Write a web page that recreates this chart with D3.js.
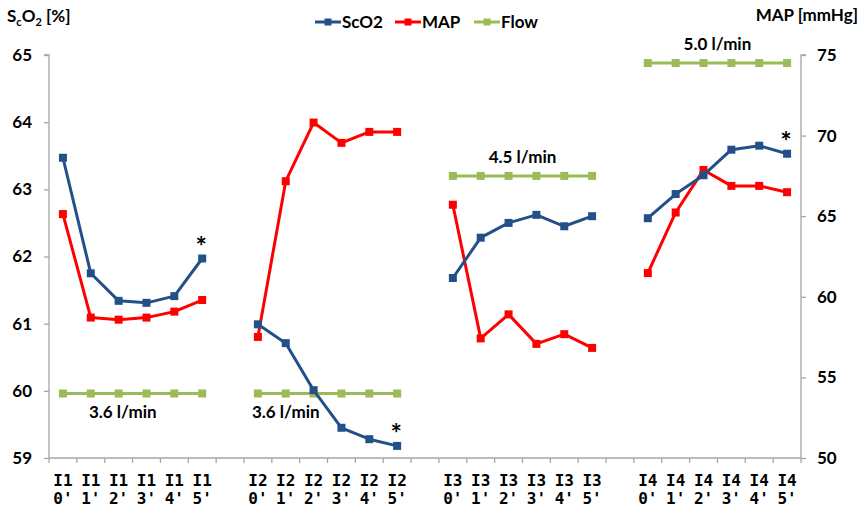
<!DOCTYPE html>
<html>
<head>
<meta charset="utf-8">
<script src="https://cdn.jsdelivr.net/npm/d3@7/dist/d3.min.js"></script>
<style>
  html, body { margin: 0; padding: 0; background: #fff; }
  svg text { font-family: Lato, "Open Sans", sans-serif; font-weight: 700; fill: #000; }
  .xlab { font-family: "DejaVu Sans Mono", "Liberation Mono", monospace; }
</style>
</head>
<body>
<svg id="chart" width="864" height="512"></svg>
<script>
// Intervention phases and sampling minutes (blank slots separate the phases)
const categories = [
  "I1 0'", "I1 1'", "I1 2'", "I1 3'", "I1 4'", "I1 5'", "",
  "I2 0'", "I2 1'", "I2 2'", "I2 3'", "I2 4'", "I2 5'", " ",
  "I3 0'", "I3 1'", "I3 2'", "I3 3'", "I3 4'", "I3 5'", "  ",
  "I4 0'", "I4 1'", "I4 2'", "I4 3'", "I4 4'", "I4 5'"
];

// Cerebral oxygen saturation [%]
const scO2 = [
  63.47, 61.75, 61.34, 61.31, 61.41, 61.97, null,
  60.99, 60.71, 60.01, 59.45, 59.28, 59.18, null,
  61.68, 62.28, 62.50, 62.62, 62.45, 62.60, null,
  62.57, 62.93, 63.21, 63.59, 63.65, 63.53
];

// Mean arterial pressure [mmHg]
const map = [
  65.13, 58.71, 58.58, 58.71, 59.08, 59.80, null,
  57.51, 67.17, 70.81, 69.55, 70.23, 70.23, null,
  65.71, 57.42, 58.91, 57.08, 57.68, 56.83, null,
  61.47, 65.23, 67.87, 66.88, 66.88, 66.49
];

// Pump flow [l/min]
const flow = [
  3.6, 3.6, 3.6, 3.6, 3.6, 3.6, null,
  3.6, 3.6, 3.6, 3.6, 3.6, 3.6, null,
  4.5, 4.5, 4.5, 4.5, 4.5, 4.5, null,
  5.0, 5.0, 5.0, 5.0, 5.0, 5.0
];
const flowLevels = [3.6, 4.5, 5.0];
const flowOnMapAxis = [54, 67.5, 74.5];

// Significant differences (category index of the starred point)
const starred = [5, 12, 26];

const leftTicks = [59, 60, 61, 62, 63, 64, 65];
const rightTicks = [50, 55, 60, 65, 70, 75];

const colors = { scO2: "#24508A", map: "#FF0000", flow: "#9BBB59" };
const axisColor = "#A6A6A6";

const svg = d3.select("#chart");
const plot = { left: 49, right: 801, top: 55, bottom: 458 };

const x = d3.scaleBand().domain(d3.range(categories.length))
  .range([plot.left, plot.right]).paddingInner(0).paddingOuter(0);
const cx = i => x(i) + x.bandwidth() / 2;

const yL = d3.scaleLinear().domain([59, 65]).range([plot.bottom, plot.top]);
const yR = d3.scaleLinear().domain([50, 75]).range([plot.bottom, plot.top]);
const flowScale = d3.scaleLinear().domain(flowLevels).range(flowOnMapAxis);

// Axes
const leftAxis = d3.axisLeft(yL).tickValues(leftTicks).tickSize(5).tickPadding(12).tickFormat(d3.format("d"));
const rightAxis = d3.axisRight(yR).tickValues(rightTicks).tickSize(5).tickPadding(11).tickFormat(d3.format("d"));

function styleAxis(g) {
  g.select(".domain").attr("stroke", axisColor).attr("stroke-width", 1.3);
  g.selectAll(".tick line").attr("stroke", axisColor).attr("stroke-width", 1.3);
  g.selectAll(".tick text").attr("font-size", 17).attr("font-family", "Lato, sans-serif")
    .attr("font-weight", 700).attr("fill", "#000");
}

svg.append("g").attr("transform", `translate(${plot.left},0)`).call(leftAxis)
  .call(g => g.select(".domain").attr("d", `M-5,${plot.top}H0V${plot.bottom}`)).call(styleAxis);
svg.append("g").attr("transform", `translate(${plot.right},0)`).call(rightAxis)
  .call(g => g.select(".domain").attr("d", `M5,${plot.top}H0V${plot.bottom}`)).call(styleAxis);

// Category axis: ticks at band boundaries, two-line labels
const xg = svg.append("g");
xg.append("line").attr("x1", plot.left).attr("x2", plot.right)
  .attr("y1", plot.bottom).attr("y2", plot.bottom)
  .attr("stroke", axisColor).attr("stroke-width", 1.3);
xg.selectAll("line.tk").data(d3.range(categories.length + 1)).join("line").attr("class", "tk")
  .attr("x1", i => plot.left + i * x.bandwidth()).attr("x2", i => plot.left + i * x.bandwidth())
  .attr("y1", plot.bottom).attr("y2", plot.bottom + 5)
  .attr("stroke", axisColor).attr("stroke-width", 1.3);
const xl = xg.selectAll("text.xlab").data(categories.map((c, i) => ({ c: c.trim(), i })).filter(d => d.c))
  .join("text").attr("class", "xlab").attr("text-anchor", "middle").attr("font-size", 16);
xl.append("tspan").attr("x", d => cx(d.i)).attr("y", 486).text(d => d.c.split(" ")[0]);
xl.append("tspan").attr("x", d => cx(d.i)).attr("y", 504).text(d => d.c.split(" ")[1]);

// Series
function drawSeries(values, yFn, color) {
  const pts = values.map((v, i) => ({ v, i })).filter(d => d.v != null);
  const line = d3.line().defined(d => d.v != null).x(d => cx(d.i)).y(d => yFn(d.v));
  svg.append("path").datum(values.map((v, i) => ({ v, i })))
    .attr("d", line).attr("fill", "none").attr("stroke", color)
    .attr("stroke-width", 3).attr("stroke-linejoin", "round");
  svg.append("g").selectAll("rect").data(pts).join("rect")
    .attr("x", d => cx(d.i) - 4).attr("y", d => yFn(d.v) - 4)
    .attr("width", 8).attr("height", 8).attr("fill", color);
}
drawSeries(flow, v => yR(flowScale(v)), colors.flow);
drawSeries(map, yR, colors.map);
drawSeries(scO2, yL, colors.scO2);

// Flow labels
const flowLabels = [
  { text: "3.6 l/min", at: 2.15, below: true, v: 3.6 },
  { text: "3.6 l/min", at: 8.0, below: true, v: 3.6 },
  { text: "4.5 l/min", at: 16.5, below: false, v: 4.5 },
  { text: "5.0 l/min", at: 23.5, below: false, v: 5.0 }
];
svg.selectAll("text.flowlab").data(flowLabels).join("text").attr("class", "flowlab")
  .attr("x", d => cx(Math.floor(d.at)) + (d.at % 1) * x.bandwidth())
  .attr("y", d => yR(flowScale(d.v)) + (d.below ? 24 : -13))
  .attr("text-anchor", "middle").attr("font-size", 17).text(d => d.text);

// Significance markers
svg.selectAll("text.star").data(starred).join("text").attr("class", "star")
  .attr("x", i => cx(i) - 1).attr("y", i => yL(scO2[i]) - 3)
  .attr("text-anchor", "middle").attr("font-size", 27).text("*");

// Axis titles
const tL = svg.append("text").attr("x", 7).attr("y", 22).attr("font-size", 17);
tL.append("tspan").text("S");
tL.append("tspan").attr("font-size", 11).attr("dy", 4).text("c");
tL.append("tspan").attr("dy", -4).text("O");
tL.append("tspan").attr("font-size", 11).attr("dy", 4).text("2");
tL.append("tspan").attr("dy", -4).text(" [%]");
svg.append("text").attr("x", 858).attr("y", 21).attr("text-anchor", "end")
  .attr("font-size", 17).text("MAP [mmHg]");

// Legend
const legend = [
  { name: "ScO2", color: colors.scO2, x: 315 },
  { name: "MAP", color: colors.map, x: 395 },
  { name: "Flow", color: colors.flow, x: 474 }
];
const lg = svg.append("g").selectAll("g").data(legend).join("g")
  .attr("transform", d => `translate(${d.x},22)`);
lg.append("line").attr("x1", 0).attr("x2", 26).attr("stroke", d => d.color).attr("stroke-width", 3);
lg.append("rect").attr("x", 9.5).attr("y", -3.5).attr("width", 7).attr("height", 7).attr("fill", d => d.color);
lg.append("text").attr("x", 27).attr("y", 6).attr("font-size", 17).text(d => d.name);
</script>
</body>
</html>
